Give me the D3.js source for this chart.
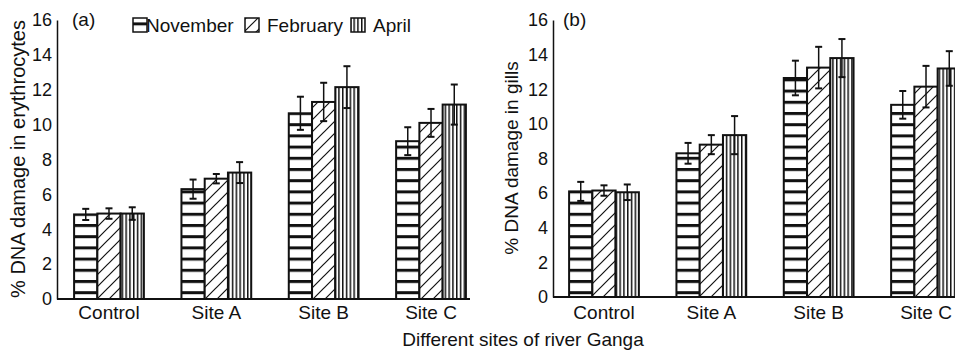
<!DOCTYPE html>
<html lang="en">
<head>
<meta charset="UTF-8">
<title>DNA damage</title>
<style>
  body { margin: 0; background: #fff; }
  svg { display: block; font-family: "Liberation Sans", Arial, sans-serif; }
  .tick text { font-size: 18px; fill: #111; }
</style>
</head>
<body>
<svg id="chart" width="955" height="351"></svg>
<script src="https://cdn.jsdelivr.net/npm/d3@7"></script>
<script>
// data
const sites = ["Control", "Site A", "Site B", "Site C"];
const months = ["November", "February", "April"];
const yTicks = [0, 2, 4, 6, 8, 10, 12, 14, 16];

// (a) erythrocytes
const eryNov = [4.85, 6.3, 10.65, 9.05];
const eryFeb = [4.9, 6.9, 11.3, 10.1];
const eryApr = [4.9, 7.25, 12.15, 11.15];
const eryNovErr = [0.32, 0.55, 0.95, 0.8];
const eryFebErr = [0.3, 0.27, 1.1, 0.8];
const eryAprErr = [0.36, 0.6, 1.2, 1.15];

// (b) gills
const gillNov = [6.1, 8.3, 12.65, 11.1];
const gillFeb = [6.15, 8.8, 13.25, 12.15];
const gillApr = [6.05, 9.35, 13.8, 13.2];
const gillNovErr = [0.55, 0.6, 1.0, 0.8];
const gillFebErr = [0.3, 0.55, 1.2, 1.2];
const gillAprErr = [0.45, 1.1, 1.1, 1.0];

const svg = d3.select("#chart");
const ink = "#111";

// fill patterns
const defs = svg.append("defs");
const pNov = defs.append("pattern").attr("id", "pat-November")
  .attr("patternUnits", "userSpaceOnUse").attr("width", 8).attr("height", 11.2);
pNov.append("rect").attr("width", 8).attr("height", 11.2).attr("fill", "#fff");
pNov.append("rect").attr("y", 0).attr("width", 8).attr("height", 3).attr("fill", ink);

const pFeb = defs.append("pattern").attr("id", "pat-February")
  .attr("patternUnits", "userSpaceOnUse").attr("width", 12).attr("height", 12);
pFeb.append("rect").attr("width", 12).attr("height", 12).attr("fill", "#fff");
pFeb.append("path").attr("d", "M-3,15 L15,-3 M-3,3 L3,-3 M9,15 L15,9")
  .attr("stroke", ink).attr("stroke-width", 1.2);

const pApr = defs.append("pattern").attr("id", "pat-April")
  .attr("patternUnits", "userSpaceOnUse").attr("width", 3.8).attr("height", 10);
pApr.append("rect").attr("width", 3.8).attr("height", 10).attr("fill", "#fff");
pApr.append("rect").attr("x", 0).attr("width", 1.5).attr("height", 10).attr("fill", ink);

function panel(cfg) {
  const y = d3.scaleLinear().domain([0, 16]).range([cfg.y0, 20]);
  const x = d3.scaleBand().domain(sites).range(cfg.xr).paddingInner(0.35).paddingOuter(0.15);
  const xm = d3.scaleBand().domain(months).range([0, x.bandwidth()]);

  const g = svg.append("g");

  // y axis
  const ya = g.append("g").attr("transform", `translate(${cfg.ax},0)`)
    .call(d3.axisLeft(y).tickValues(yTicks).tickSize(0).tickPadding(5));
  ya.select(".domain").attr("stroke", ink).attr("stroke-width", 1.5);

  // baseline
  g.append("line").attr("x1", cfg.ax).attr("x2", cfg.xEnd)
    .attr("y1", y(0)).attr("y2", y(0)).attr("stroke", ink).attr("stroke-width", 2);

  const rows = [];
  sites.forEach((s, i) => months.forEach((m, j) => {
    rows.push({ site: s, month: m, v: cfg.vals[j][i], e: cfg.errs[j][i] });
  }));

  g.selectAll("rect.bar").data(rows).enter().append("rect")
    .attr("class", "bar")
    .attr("x", d => x(d.site) + xm(d.month))
    .attr("y", d => y(d.v))
    .attr("width", xm.bandwidth())
    .attr("height", d => y(0) - y(d.v))
    .attr("fill", d => `url(#pat-${d.month})`)
    .attr("stroke", ink).attr("stroke-width", 2);

  // error bars
  const eb = g.selectAll("g.err").data(rows).enter().append("g").attr("class", "err")
    .attr("transform", d => `translate(${x(d.site) + xm(d.month) + xm.bandwidth() / 2},0)`);
  eb.append("line").attr("y1", d => y(d.v + d.e)).attr("y2", d => y(d.v - d.e))
    .attr("stroke", ink).attr("stroke-width", 1.5);
  eb.append("line").attr("x1", -3.5).attr("x2", 3.5)
    .attr("y1", d => y(d.v + d.e)).attr("y2", d => y(d.v + d.e))
    .attr("stroke", ink).attr("stroke-width", 2);
  eb.append("line").attr("x1", -3.5).attr("x2", 3.5)
    .attr("y1", d => y(d.v - d.e)).attr("y2", d => y(d.v - d.e))
    .attr("stroke", ink).attr("stroke-width", 2);

  // category labels
  g.selectAll("text.cat").data(sites).enter().append("text")
    .attr("class", "cat")
    .attr("x", d => x(d) + x.bandwidth() / 2)
    .attr("y", 319)
    .attr("text-anchor", "middle")
    .attr("font-size", 19).attr("fill", ink)
    .text(d => d);

  // y title
  g.append("text")
    .attr("transform", `translate(${cfg.ylx},${cfg.yly}) rotate(-90)`)
    .attr("text-anchor", "middle")
    .attr("font-size", cfg.yfs).attr("fill", ink)
    .text(cfg.ytitle);

  // panel tag
  g.append("text").attr("x", cfg.tagx).attr("y", 26)
    .attr("font-size", 19).attr("fill", ink).text(cfg.tag);
}

panel({
  xr: [58, 482], ax: 57, xEnd: 470, y0: 299,
  vals: [eryNov, eryFeb, eryApr], errs: [eryNovErr, eryFebErr, eryAprErr],
  ytitle: "% DNA damage in erythrocytes", ylx: 25, yly: 159, yfs: 20, tag: "(a)", tagx: 72
});
panel({
  xr: [553, 977], ax: 553, xEnd: 955, y0: 297,
  vals: [gillNov, gillFeb, gillApr], errs: [gillNovErr, gillFebErr, gillAprErr],
  ytitle: "% DNA damage in gills", ylx: 518, yly: 158, yfs: 19, tag: "(b)", tagx: 563
});

// legend
const legX = [133, 245, 351];
const leg = svg.append("g");
months.forEach((m, i) => {
  leg.append("rect").attr("x", legX[i]).attr("y", 18).attr("width", 14).attr("height", 14)
    .attr("fill", `url(#pat-${m})`).attr("stroke", ink).attr("stroke-width", 1.5);
  leg.append("text").attr("x", legX[i] + (i === 0 ? 13 : 22)).attr("y", 32)
    .attr("font-size", 19).attr("fill", ink).text(m);
});

// x title
svg.append("text").attr("x", 523).attr("y", 346).attr("text-anchor", "middle")
  .attr("font-size", 19).attr("fill", ink).text("Different sites of river Ganga");
</script>
</body>
</html>
